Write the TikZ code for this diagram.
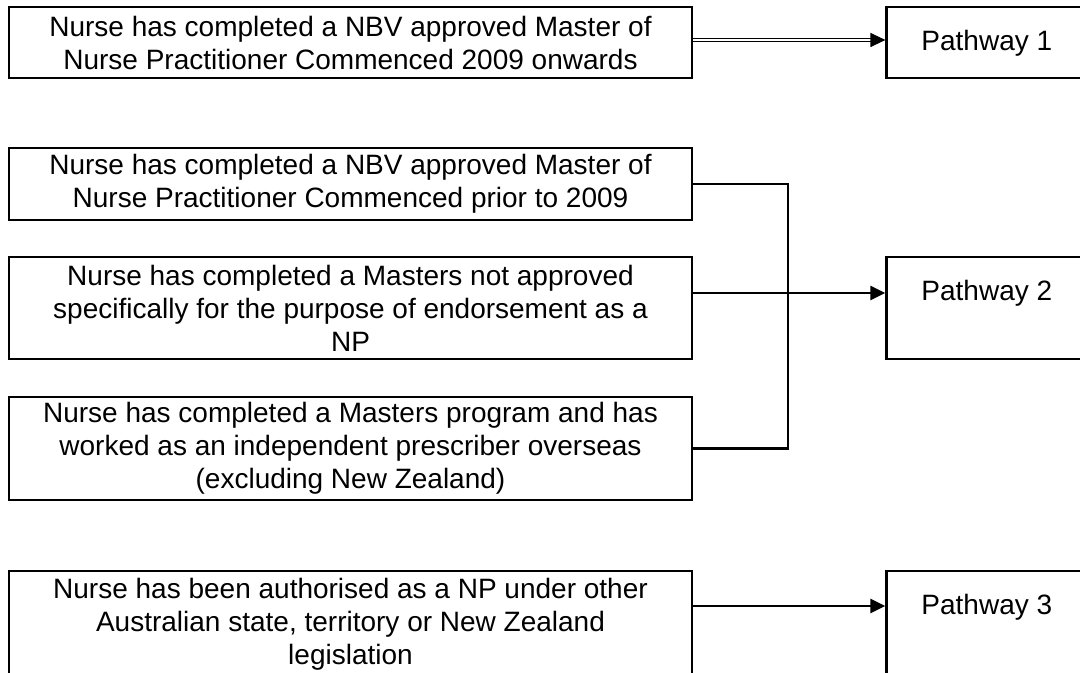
\documentclass[tikz,border=0pt]{standalone}
\usepackage{fontspec}
\setmainfont{Liberation Sans}
\usetikzlibrary{positioning,arrows.meta}

\tikzset{
  txt/.style={font=\fontsize{14pt}{16.5pt}\selectfont},
  entry/.style={draw, txt, line width=1.4pt, align=center, inner ysep=1pt, minimum width=341.5pt},
  pathway/.style={draw, line width=1.4pt, minimum width=100pt},
  link/.style={line width=1.4pt},
  arrowto/.style={-{Triangle[length=7.5pt,width=7pt]}}
}

\begin{document}
\begin{tikzpicture}
\useasboundingbox (0,0) rectangle (540pt,-336.5pt);

% qualifications
\node [entry, minimum height=35.5pt] (box1) at (175.25pt,-21.25pt)
  {Nurse has completed a NBV approved Master of\\Nurse Practitioner Commenced 2009 onwards};
\node [entry, minimum height=36pt, below=33.6pt of box1] (box2)
  {Nurse has completed a NBV approved Master of\\Nurse Practitioner Commenced prior to 2009};
\node [entry, minimum height=51pt, below=17.1pt of box2] (box3)
  {Nurse has completed a Masters not approved\\specifically for the purpose of endorsement as a\\NP};
\node [entry, minimum height=51.5pt, below=17.6pt of box3] (box4)
  {Nurse has completed a Masters program and has\\worked as an independent prescriber overseas\\(excluding New Zealand)};
\node [entry, minimum height=53pt, below=34.1pt of box4] (box5)
  {Nurse has been authorised as a NP under other\\Australian state, territory or New Zealand\\legislation};

% pathways
\node [pathway, minimum height=35.5pt, right=96pt of box1,
  label={[txt, anchor=north, yshift=-9pt]north:Pathway 1}] (p1) {};
\node [pathway, minimum height=51pt, right=96pt of box3,
  label={[txt, anchor=north, yshift=-9pt]north:Pathway 2}] (p2) {};
\node [pathway, minimum height=53pt, right=96pt of box5,
  label={[txt, anchor=north, yshift=-9pt]north:Pathway 3}] (p3) {};

\coordinate (bus) at (394pt,0);

\draw [arrowto, double, line width=0.6pt, double distance=0.7pt]
  ([yshift=1.25pt]box1.east) -- ([yshift=1.25pt]p1.west);
\draw [link] (box2.east) -| (bus |- box4.east) -- (box4.east);
\draw [link, arrowto] ([yshift=7.5pt]box3.east) -- ([yshift=7.5pt]p2.west);
\draw [link, arrowto] ([yshift=9pt]box5.east) -- ([yshift=9pt]p3.west);

\end{tikzpicture}
\end{document}
